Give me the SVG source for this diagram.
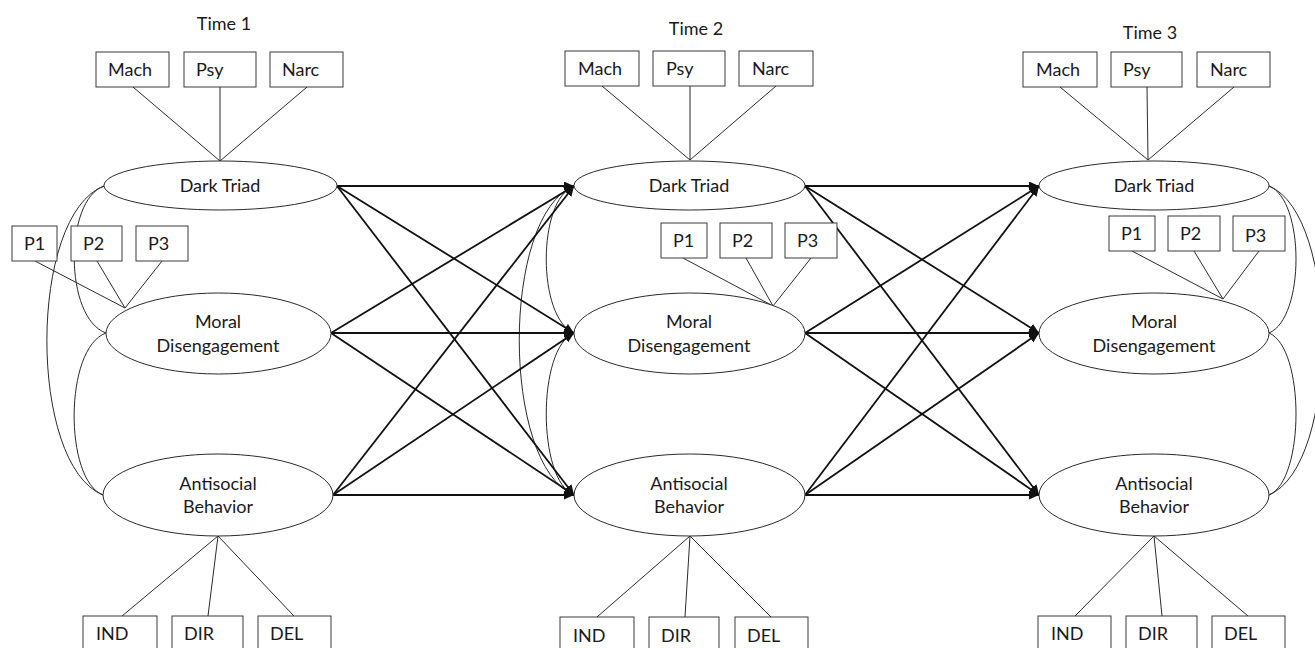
<svg xmlns="http://www.w3.org/2000/svg" width="1315" height="648" viewBox="0 0 1315 648">
<style>
.bg{fill:#ffffff}
.box{fill:#ffffff;stroke:#3a3a3a;stroke-width:1}
.lat{fill:#ffffff;stroke:#2a2a2a;stroke-width:1}
.t{font-family:Lato,"Open Sans","Liberation Sans",sans-serif;font-size:18px;fill:#1a1a1a}
.c{text-anchor:middle}
.load{stroke:#2a2a2a;stroke-width:1;fill:none}
.cov{stroke:#2a2a2a;stroke-width:1;fill:none}
.arr{stroke:#111111;stroke-width:1.8;fill:none;marker-end:url(#ah)}
</style>
<defs>
<marker id="ah" markerUnits="userSpaceOnUse" markerWidth="12" markerHeight="10" refX="10" refY="4.5" orient="auto">
<path d="M0,0 L10,4.5 L0,9 Z" fill="#111111"/>
</marker>
</defs>
<rect class="bg" x="0" y="0" width="1315" height="648"/>

<g id="connectors">
<!-- loadings time 1 -->
<path class="load" d="M133,87 L220,161 M220,87 L220,161 M307,87 L220,161"/>
<path class="load" d="M35,261 L125,308 M97,261 L125,308 M162,261 L125,308"/>
<path class="load" d="M218,536 L122,616 M218,536 L208,616 M218,536 L294,616"/>
<!-- loadings time 2 -->
<path class="load" d="M602,86 L690,160 M690,86 L690,160 M776,86 L690,160"/>
<path class="load" d="M683,258 L773,306 M746,258 L773,306 M811,258 L773,306"/>
<path class="load" d="M690,536 L597,617 M690,536 L685,617 M690,536 L771,617"/>
<!-- loadings time 3 -->
<path class="load" d="M1060,87 L1148,160 M1147,87 L1148,160 M1234,87 L1148,160"/>
<path class="load" d="M1132,251 L1223,299 M1194,251 L1223,299 M1259,251 L1223,299"/>
<path class="load" d="M1154,536 L1075,616 M1154,536 L1162,616 M1154,536 L1248,616"/>
<!-- covariances -->
<path class="cov" d="M104,186 C64,200 64,318 106,333"/>
<path class="cov" d="M104,186 C28,215 28,465 103,495"/>
<path class="cov" d="M106,333 C64,348 64,480 103,495"/>
<path class="cov" d="M574,186 C537,200 537,318 574,333"/>
<path class="cov" d="M574,186 C501,215 501,465 574,495"/>
<path class="cov" d="M574,333 C537,348 537,480 574,495"/>
<path class="cov" d="M1269,186 C1305,200 1305,318 1269,333"/>
<path class="cov" d="M1269,186 C1340,215 1340,465 1269,495"/>
<path class="cov" d="M1269,333 C1305,348 1305,480 1269,495"/>
<!-- cross-lagged paths time 1 -> 2 -->
<path class="arr" d="M337,186 L574,186"/>
<path class="arr" d="M337,186 L574,333"/>
<path class="arr" d="M337,186 L574,495"/>
<path class="arr" d="M331,333 L574,186"/>
<path class="arr" d="M331,333 L574,333"/>
<path class="arr" d="M331,333 L574,495"/>
<path class="arr" d="M333,495 L574,186"/>
<path class="arr" d="M333,495 L574,333"/>
<path class="arr" d="M333,495 L574,495"/>
<!-- time 2 -> 3 -->
<path class="arr" d="M805,186 L1039,186"/>
<path class="arr" d="M805,186 L1039,333"/>
<path class="arr" d="M805,186 L1039,495"/>
<path class="arr" d="M805,333 L1039,186"/>
<path class="arr" d="M805,333 L1039,333"/>
<path class="arr" d="M805,333 L1039,495"/>
<path class="arr" d="M805,495 L1039,186"/>
<path class="arr" d="M805,495 L1039,333"/>
<path class="arr" d="M805,495 L1039,495"/>
</g>

<g id="titles">
<text class="t c" x="224" y="30">Time 1</text>
<text class="t c" x="696" y="35">Time 2</text>
<text class="t c" x="1150" y="39">Time 3</text>
</g>

<!-- Time 1 nodes -->
<g id="t1-mach"><rect class="box" x="96" y="52" width="73" height="35"/><text class="t" x="108" y="76">Mach</text></g>
<g id="t1-psy"><rect class="box" x="184" y="52" width="72" height="35"/><text class="t" x="196" y="76">Psy</text></g>
<g id="t1-narc"><rect class="box" x="270" y="52" width="73" height="35"/><text class="t" x="282" y="76">Narc</text></g>
<g id="t1-dt"><ellipse class="lat" cx="220.5" cy="185.5" rx="116.5" ry="24.5"/><text class="t c" x="220" y="192">Dark Triad</text></g>
<g id="t1-p1"><rect class="box" x="12" y="226" width="45" height="35"/><text class="t" x="24" y="250">P1</text></g>
<g id="t1-p2"><rect class="box" x="71" y="226" width="51" height="35"/><text class="t" x="83" y="250">P2</text></g>
<g id="t1-p3"><rect class="box" x="136" y="226" width="52" height="35"/><text class="t" x="148" y="250">P3</text></g>
<g id="t1-md"><ellipse class="lat" cx="218.5" cy="333.5" rx="112.5" ry="40.5"/><text class="t c" x="218" y="328">Moral</text><text class="t c" x="218" y="352">Disengagement</text></g>
<g id="t1-ab"><ellipse class="lat" cx="218" cy="495" rx="115" ry="41"/><text class="t c" x="218" y="490">Antisocial</text><text class="t c" x="218" y="513">Behavior</text></g>
<g id="t1-ind"><rect class="box" x="83" y="616" width="74" height="36"/><text class="t" x="96" y="640">IND</text></g>
<g id="t1-dir"><rect class="box" x="172" y="616" width="71" height="36"/><text class="t" x="184" y="640">DIR</text></g>
<g id="t1-del"><rect class="box" x="258" y="616" width="73" height="36"/><text class="t" x="270" y="640">DEL</text></g>

<!-- Time 2 nodes -->
<g id="t2-mach"><rect class="box" x="565" y="51" width="74" height="35"/><text class="t" x="578" y="75">Mach</text></g>
<g id="t2-psy"><rect class="box" x="653" y="51" width="72" height="35"/><text class="t" x="666" y="75">Psy</text></g>
<g id="t2-narc"><rect class="box" x="739" y="51" width="74" height="35"/><text class="t" x="752" y="75">Narc</text></g>
<g id="t2-dt"><ellipse class="lat" cx="689.5" cy="185.5" rx="115.5" ry="24.5"/><text class="t c" x="689" y="192">Dark Triad</text></g>
<g id="t2-p1"><rect class="box" x="661" y="223" width="46" height="35"/><text class="t" x="673" y="247">P1</text></g>
<g id="t2-p2"><rect class="box" x="720" y="223" width="52" height="35"/><text class="t" x="732" y="247">P2</text></g>
<g id="t2-p3"><rect class="box" x="785" y="223" width="52" height="35"/><text class="t" x="797" y="247">P3</text></g>
<g id="t2-md"><ellipse class="lat" cx="689.5" cy="333.5" rx="115.5" ry="40.5"/><text class="t c" x="689" y="328">Moral</text><text class="t c" x="689" y="352">Disengagement</text></g>
<g id="t2-ab"><ellipse class="lat" cx="689.5" cy="495" rx="115.5" ry="41"/><text class="t c" x="689" y="490">Antisocial</text><text class="t c" x="689" y="513">Behavior</text></g>
<g id="t2-ind"><rect class="box" x="560" y="617" width="74" height="35"/><text class="t" x="573" y="642">IND</text></g>
<g id="t2-dir"><rect class="box" x="649" y="617" width="70" height="35"/><text class="t" x="661" y="642">DIR</text></g>
<g id="t2-del"><rect class="box" x="735" y="617" width="73" height="35"/><text class="t" x="747" y="642">DEL</text></g>

<!-- Time 3 nodes -->
<g id="t3-mach"><rect class="box" x="1023" y="52" width="74" height="35"/><text class="t" x="1036" y="76">Mach</text></g>
<g id="t3-psy"><rect class="box" x="1111" y="52" width="71" height="35"/><text class="t" x="1123" y="76">Psy</text></g>
<g id="t3-narc"><rect class="box" x="1197" y="52" width="73" height="35"/><text class="t" x="1210" y="76">Narc</text></g>
<g id="t3-dt"><ellipse class="lat" cx="1154" cy="185.5" rx="115" ry="24.5"/><text class="t c" x="1154" y="192">Dark Triad</text></g>
<g id="t3-p1"><rect class="box" x="1109" y="216" width="46" height="35"/><text class="t" x="1121" y="240">P1</text></g>
<g id="t3-p2"><rect class="box" x="1168" y="216" width="52" height="35"/><text class="t" x="1180" y="240">P2</text></g>
<g id="t3-p3"><rect class="box" x="1233" y="216" width="52" height="35"/><text class="t" x="1245" y="242">P3</text></g>
<g id="t3-md"><ellipse class="lat" cx="1154" cy="333.5" rx="115" ry="40.5"/><text class="t c" x="1154" y="328">Moral</text><text class="t c" x="1154" y="352">Disengagement</text></g>
<g id="t3-ab"><ellipse class="lat" cx="1154" cy="495" rx="115" ry="41"/><text class="t c" x="1154" y="490">Antisocial</text><text class="t c" x="1154" y="513">Behavior</text></g>
<g id="t3-ind"><rect class="box" x="1038" y="616" width="73" height="36"/><text class="t" x="1051" y="640">IND</text></g>
<g id="t3-dir"><rect class="box" x="1126" y="616" width="71" height="36"/><text class="t" x="1138" y="640">DIR</text></g>
<g id="t3-del"><rect class="box" x="1212" y="616" width="73" height="36"/><text class="t" x="1224" y="640">DEL</text></g>
</svg>
